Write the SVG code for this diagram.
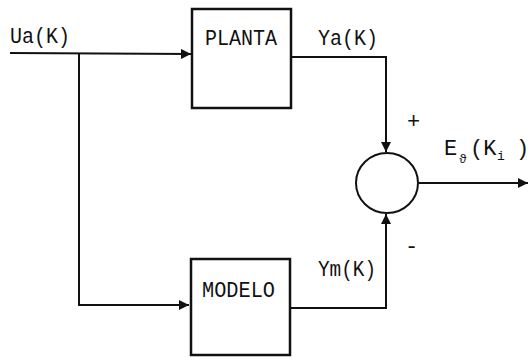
<svg xmlns="http://www.w3.org/2000/svg" width="530" height="360" viewBox="0 0 530 360">
<defs>
<style>
.t{font-family:"Liberation Mono","DejaVu Sans Mono",monospace;font-size:22px;fill:#111}
.s{font-family:"Liberation Mono","DejaVu Sans Mono",monospace;font-size:13px;fill:#111}
.ln{fill:none;stroke:#111;stroke-width:2}
.bx{fill:#fff;stroke:#111;stroke-width:2.5}
</style>
<marker id="ar" viewBox="0 0 10 10" refX="10" refY="5" markerWidth="5" markerHeight="5" orient="auto" markerUnits="strokeWidth">
<path d="M0,0 L10,5 L0,10 Z" fill="#111"/>
</marker>
</defs>
<g id="connectors">
<line class="ln" x1="10" y1="53" x2="191" y2="54" marker-end="url(#ar)"/>
<polyline class="ln" points="79,54 79,305 189,305" marker-end="url(#ar)"/>
<polyline class="ln" points="291,57 386,57 386,152" marker-end="url(#ar)"/>
<polyline class="ln" points="291,308 386,308 386,214" marker-end="url(#ar)"/>
<line class="ln" x1="419" y1="183" x2="528" y2="183" marker-end="url(#ar)"/>
</g>
<g id="input-label"><text class="t" x="10" y="43" textLength="60" lengthAdjust="spacingAndGlyphs">Ua(K)</text></g>
<g id="planta">
<rect class="bx" x="192" y="9" width="99" height="99"/>
<text class="t" x="205" y="45" textLength="72" lengthAdjust="spacingAndGlyphs">PLANTA</text>
</g>
<g id="modelo">
<rect class="bx" x="191" y="259" width="99" height="96"/>
<text class="t" x="202" y="297" textLength="73" lengthAdjust="spacingAndGlyphs">MODELO</text>
</g>
<g id="ya-label"><text class="t" x="318" y="45" textLength="60" lengthAdjust="spacingAndGlyphs">Ya(K)</text></g>
<g id="ym-label"><text class="t" x="318" y="276" textLength="58" lengthAdjust="spacingAndGlyphs">Ym(K)</text></g>
<g id="sum">
<ellipse class="ln" cx="387" cy="183" rx="31" ry="30" stroke-width="2.5"/>
<text class="t" x="407" y="128" font-size="16">+</text>
<text class="t" x="405" y="253">-</text>
</g>
<g id="output-label">
<text class="t" x="444" y="155">E</text>
<text class="s" x="459" y="163">ϑ</text>
<text class="t" x="470" y="155">(K</text>
<text class="s" x="497" y="160">i</text>
<text class="t" x="516" y="155">)</text>
</g>
</svg>
